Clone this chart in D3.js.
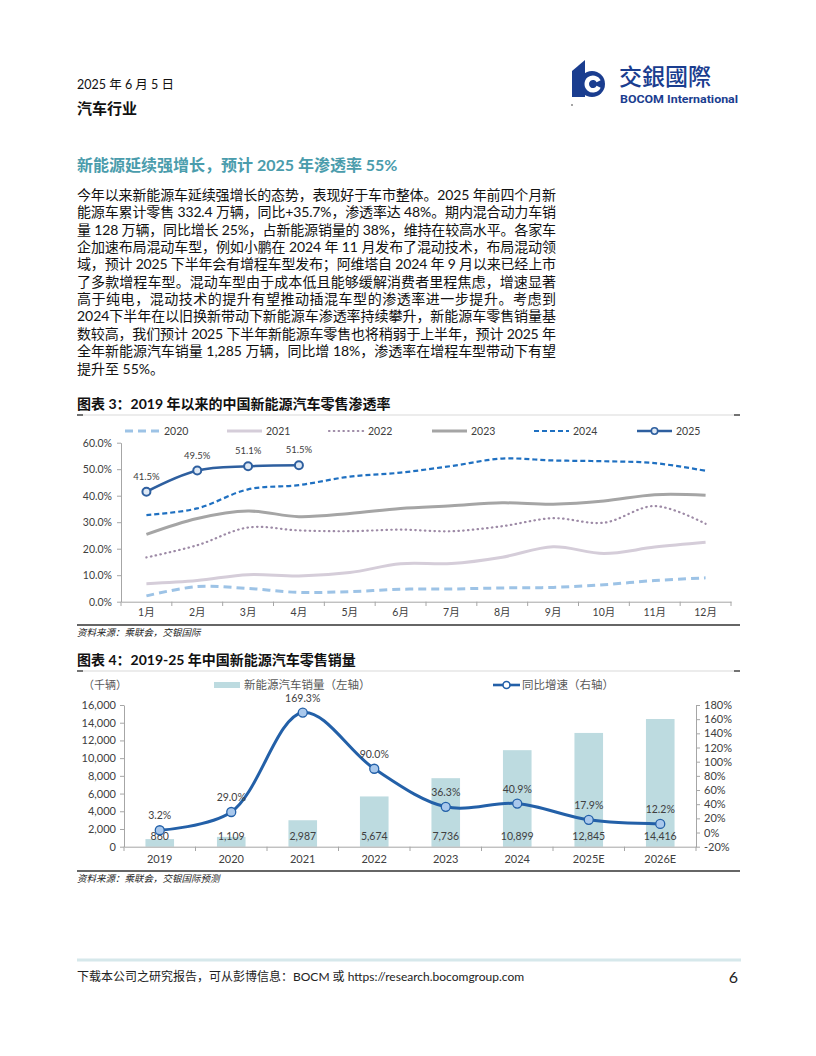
<!DOCTYPE html>
<html><head><meta charset="utf-8">
<script src="https://cdn.jsdelivr.net/npm/d3@7"></script>
<style>
body{margin:0;background:#fff}
svg{display:block}
text{font-family:Lato,'Noto Sans CJK SC',sans-serif}
</style>
</head><body>
<svg id="page" width="816" height="1056"></svg>
<script>
// ---------- DATA ----------
const months = ["1月","2月","3月","4月","5月","6月","7月","8月","9月","10月","11月","12月"];
const pen2020 = [2.2,5.7,5.0,3.5,3.8,4.7,4.8,5.2,5.4,6.4,8.0,9.0];
const pen2021 = [6.8,8.0,10.2,9.7,11.0,14.3,14.4,16.8,20.7,18.2,20.6,22.4];
const pen2022 = [16.7,21.3,28.0,26.9,26.6,27.2,26.6,28.5,31.5,29.8,36.1,29.4];
const pen2023 = [25.4,31.4,34.2,32.1,33.3,35.2,36.2,37.3,36.8,38.0,40.4,40.2];
const pen2024 = [32.7,35.2,42.4,44.0,47.2,48.7,51.2,54.0,53.3,53.0,52.3,49.4];
const pen2025 = [41.5,49.5,51.1,51.5];
const penTicks = [0,10,20,30,40,50,60];

const years = ["2019","2020","2021","2022","2023","2024","2025E","2026E"];
const sales = [860,1109,2987,5674,7736,10899,12845,14416];
const growth = [3.2,29.0,169.3,90.0,36.3,40.9,17.9,12.2];
const salesTicks = [0,2000,4000,6000,8000,10000,12000,14000,16000];
const growthTicks = [-20,0,20,40,60,80,100,120,140,160,180];

const bodyLines = [
 "今年以来新能源车延续强增长的态势，表现好于车市整体。2025 年前四个月新",
 "能源车累计零售 332.4 万辆，同比+35.7%，渗透率达 48%。期内混合动力车销",
 "量 128 万辆，同比增长 25%，占新能源销量的 38%，维持在较高水平。各家车",
 "企加速布局混动车型，例如小鹏在 2024 年 11 月发布了混动技术，布局混动领",
 "域，预计 2025 下半年会有增程车型发布；阿维塔自 2024 年 9 月以来已经上市",
 "了多款增程车型。混动车型由于成本低且能够缓解消费者里程焦虑，增速显著",
 "高于纯电，混动技术的提升有望推动插混车型的渗透率进一步提升。考虑到",
 "2024下半年在以旧换新带动下新能源车渗透率持续攀升，新能源车零售销量基",
 "数较高，我们预计 2025 下半年新能源车零售也将稍弱于上半年，预计 2025 年",
 "全年新能源汽车销量 1,285 万辆，同比增 18%，渗透率在增程车型带动下有望",
 "提升至 55%。"
];

// ---------- PAGE ----------
const svg = d3.select("#page");
const dark = "#1a3d8f";

// header
svg.append("text").attr("x",77).attr("y",89).attr("font-size",12.5).attr("fill","#111").text("2025 年 6 月 5 日");
svg.append("text").attr("x",77).attr("y",114).attr("font-size",15).attr("font-weight","bold").attr("fill","#111").text("汽车行业");

// logo
const logo = svg.append("g");
logo.append("path").attr("d","M572,71 L585,60 L585,97 L572,97 Z").attr("fill",dark);
logo.append("circle").attr("cx",592).attr("cy",84).attr("r",13).attr("fill",dark);
logo.append("path").attr("transform","translate(593,84)")
  .attr("d", d3.arc()({innerRadius:4,outerRadius:8.5,startAngle:Math.PI/2+0.45,endAngle:Math.PI/2-0.45+2*Math.PI}))
  .attr("fill","#fff");
logo.append("circle").attr("cx",572).attr("cy",105).attr("r",0.8).attr("fill","#333");
logo.append("text").attr("x",619).attr("y",85).attr("font-size",23).attr("fill",dark)
  .style("font-family","'Noto Sans CJK TC'").attr("font-weight",500).text("交銀國際");
logo.append("text").attr("x",620).attr("y",102.5).attr("font-size",11).attr("font-weight","bold").attr("fill",dark)
  .style("font-family","Roboto, 'Liberation Sans'").attr("textLength",118).attr("lengthAdjust","spacingAndGlyphs").text("BOCOM International");

// section title
svg.append("text").attr("x",77).attr("y",171).attr("font-size",16).attr("font-weight","bold").attr("fill","#4a9cac")
  .text("新能源延续强增长，预计 2025 年渗透率 55%");

// body
bodyLines.forEach((t,i)=>{
  const tx = svg.append("text").attr("x",77).attr("y",200+i*17.35).attr("font-size",14).attr("fill","#111").text(t);
  if(i<bodyLines.length-1) tx.attr("textLength",479).attr("lengthAdjust","spacing");
});

function titleRule(y){
  svg.append("line").attr("x1",77).attr("x2",740).attr("y1",y).attr("y2",y).attr("stroke","#d9d9d9").attr("stroke-width",1);
  svg.append("line").attr("x1",77).attr("x2",83).attr("y1",y).attr("y2",y).attr("stroke","#222").attr("stroke-width",1.2);
  svg.append("line").attr("x1",734).attr("x2",740).attr("y1",y).attr("y2",y).attr("stroke","#222").attr("stroke-width",1.2);
}

// ---------- CHART 3 ----------
svg.append("text").attr("x",77).attr("y",409).attr("font-size",14).attr("font-weight","bold").attr("fill","#111")
  .text("图表 3：2019 年以来的中国新能源汽车零售渗透率");
titleRule(415);

const x3 = d3.scaleBand().domain(months).range([121,731]);
const y3 = d3.scaleLinear().domain([0,60]).range([601.7,442.7]);
const axisCol = "#a6a6a6", txtCol = "#404040";

const series3 = [
  {name:"2020", data:pen2020, color:"#9dc3e6", w:3, dash:"8,5", cap:"butt"},
  {name:"2021", data:pen2021, color:"#d5cdd9", w:3, dash:null, cap:"butt"},
  {name:"2022", data:pen2022, color:"#9d8aa6", w:2.2, dash:"0.5,4.3", cap:"round"},
  {name:"2023", data:pen2023, color:"#a5a5a5", w:3, dash:null, cap:"butt"},
  {name:"2024", data:pen2024, color:"#1f70c1", w:2.2, dash:"5,3", cap:"butt"},
  {name:"2025", data:pen2025, color:"#2e5f9f", w:2.6, dash:null, cap:"butt", marker:true}
];

// axes
const gy3 = svg.append("g").attr("transform","translate(121,0)")
  .call(d3.axisLeft(y3).tickValues(penTicks).tickSize(4).tickSizeOuter(0).tickFormat(d=>d.toFixed(1)+"%"));
const gx3 = svg.append("g").attr("transform","translate(0,601.7)")
  .call(d3.axisBottom(x3).tickSize(0).tickSizeOuter(0));
[gy3,gx3].forEach(g=>{
  g.select(".domain").attr("stroke",axisCol);
  g.selectAll(".tick line").attr("stroke",axisCol);
  g.selectAll("text").attr("fill",txtCol).attr("font-size",10.5).style("font-family","Lato,'Noto Sans CJK SC'");
});
gy3.selectAll("text").attr("x",-9);
gx3.selectAll("text").attr("dy","0.9em").attr("y",5);
// x ticks at band boundaries
svg.append("g").selectAll("line").data(months.concat(["end"])).join("line")
  .attr("x1",(d,i)=>121+i*x3.step()).attr("x2",(d,i)=>121+i*x3.step())
  .attr("y1",601.7).attr("y2",606).attr("stroke",axisCol);

const line3 = d3.line().x((d,i)=>x3(months[i])+x3.bandwidth()/2).y(d=>y3(d)).curve(d3.curveCatmullRom.alpha(0.5));
series3.forEach(s=>{
  svg.append("path").attr("d",line3(s.data)).attr("fill","none").attr("stroke",s.color)
    .attr("stroke-width",s.w).attr("stroke-dasharray",s.dash).attr("stroke-linecap",s.cap);
});
const s25 = series3[5];
svg.append("g").selectAll("circle").data(pen2025).join("circle")
  .attr("cx",(d,i)=>x3(months[i])+x3.bandwidth()/2).attr("cy",d=>y3(d)).attr("r",4)
  .attr("fill","#dfe9f5").attr("stroke",s25.color).attr("stroke-width",2);
svg.append("g").selectAll("text").data(pen2025).join("text")
  .attr("x",(d,i)=>x3(months[i])+x3.bandwidth()/2).attr("y",d=>y3(d)-12)
  .attr("text-anchor","middle").attr("font-size",9.5).attr("fill",txtCol).text(d=>d.toFixed(1)+"%");

// legend 3
const leg3x = [125,227,329,432,534,637];
series3.forEach((s,i)=>{
  const g = svg.append("g");
  g.append("line").attr("x1",leg3x[i]).attr("x2",leg3x[i]+35).attr("y1",431).attr("y2",431)
    .attr("stroke",s.color).attr("stroke-width",s.w).attr("stroke-dasharray",s.dash).attr("stroke-linecap",s.cap);
  if(s.marker) g.append("circle").attr("cx",leg3x[i]+17.5).attr("cy",431).attr("r",3.2).attr("fill","#dfe9f5").attr("stroke",s.color).attr("stroke-width",1.6);
  g.append("text").attr("x",leg3x[i]+39).attr("y",435).attr("font-size",10.5).attr("fill",txtCol).text(s.name);
});

svg.append("line").attr("x1",77).attr("x2",740).attr("y1",625).attr("y2",625).attr("stroke","#333").attr("stroke-width",1.5);
svg.append("text").attr("x",77).attr("y",636).attr("font-size",9.5).attr("font-style","italic").attr("fill","#222").text("资料来源：乘联会，交银国际");

// ---------- CHART 4 ----------
svg.append("text").attr("x",77).attr("y",665).attr("font-size",14).attr("font-weight","bold").attr("fill","#111")
  .text("图表 4：2019-25 年中国新能源汽车零售销量");
titleRule(671);

const x4 = d3.scaleBand().domain(years).range([124,696]);
const yL = d3.scaleLinear().domain([0,16000]).range([846.7,705]);
const yR = d3.scaleLinear().domain([-20,180]).range([846.7,705]);
const barCol = "#bddbe0", lineCol = "#2360a8";

const bw = x4.bandwidth()*0.4;
svg.append("g").selectAll("rect").data(sales).join("rect")
  .attr("x",(d,i)=>x4(years[i])+x4.bandwidth()/2-bw/2).attr("width",bw)
  .attr("y",d=>yL(d)).attr("height",d=>yL(0)-yL(d)).attr("fill",barCol);

const gL = svg.append("g").attr("transform","translate(124,0)")
  .call(d3.axisLeft(yL).tickValues(salesTicks).tickSize(4).tickSizeOuter(0).tickFormat(d3.format(",")));
const gR = svg.append("g").attr("transform","translate(696,0)")
  .call(d3.axisRight(yR).tickValues(growthTicks).tickSize(4).tickSizeOuter(0).tickFormat(d=>d+"%"));
const gX = svg.append("g").attr("transform","translate(0,846.7)")
  .call(d3.axisBottom(x4).tickSize(0).tickSizeOuter(0));
[gL,gR,gX].forEach(g=>{
  g.select(".domain").attr("stroke",axisCol);
  g.selectAll(".tick line").attr("stroke",axisCol);
  g.selectAll("text").attr("fill",txtCol).attr("font-size",11).style("font-family","Lato,'Noto Sans CJK SC'");
});
gL.selectAll("text").attr("x",-8);
gR.selectAll("text").attr("x",8);
gX.selectAll("text").attr("dy","0.9em").attr("y",6);
svg.append("g").selectAll("line").data(years.concat(["end"])).join("line")
  .attr("x1",(d,i)=>124+i*x4.step()).attr("x2",(d,i)=>124+i*x4.step())
  .attr("y1",846.7).attr("y2",851).attr("stroke",axisCol);

// bar labels
svg.append("g").selectAll("text").data(sales).join("text")
  .attr("x",(d,i)=>x4(years[i])+x4.bandwidth()/2).attr("y",840)
  .attr("text-anchor","middle").attr("font-size",10.5).attr("fill",txtCol).text(d3.format(","));

const line4 = d3.line().x((d,i)=>x4(years[i])+x4.bandwidth()/2).y(d=>yR(d)).curve(d3.curveCatmullRom.alpha(0.5));
svg.append("path").attr("d",line4(growth)).attr("fill","none").attr("stroke",lineCol).attr("stroke-width",3);
svg.append("g").selectAll("circle").data(growth).join("circle")
  .attr("cx",(d,i)=>x4(years[i])+x4.bandwidth()/2).attr("cy",d=>yR(d)).attr("r",4.5)
  .attr("fill","#a9c8ec").attr("stroke",lineCol).attr("stroke-width",1.3);
svg.append("g").selectAll("text").data(growth).join("text")
  .attr("x",(d,i)=>x4(years[i])+x4.bandwidth()/2).attr("y",d=>yR(d)-11)
  .attr("text-anchor","middle").attr("font-size",10.5).attr("fill",txtCol).text(d=>d.toFixed(1)+"%");

// legend 4
svg.append("text").attr("x",83).attr("y",689).attr("font-size",11).attr("fill","#595959").text("（千辆）");
svg.append("rect").attr("x",214).attr("y",682).attr("width",26).attr("height",6).attr("fill",barCol);
svg.append("text").attr("x",244).attr("y",689).attr("font-size",11.5).attr("fill","#595959").text("新能源汽车销量（左轴）");
svg.append("line").attr("x1",493).attr("x2",520).attr("y1",685).attr("y2",685).attr("stroke",lineCol).attr("stroke-width",2.6);
svg.append("circle").attr("cx",506.5).attr("cy",685).attr("r",3.5).attr("fill","#fff").attr("stroke",lineCol).attr("stroke-width",1.6);
svg.append("text").attr("x",522).attr("y",689).attr("font-size",11.5).attr("fill","#595959").text("同比增速（右轴）");

svg.append("line").attr("x1",77).attr("x2",740).attr("y1",871).attr("y2",871).attr("stroke","#333").attr("stroke-width",1.5);
svg.append("text").attr("x",77).attr("y",882).attr("font-size",9.5).attr("font-style","italic").attr("fill","#222").text("资料来源：乘联会，交银国际预测");

// ---------- FOOTER ----------
svg.append("line").attr("x1",77).attr("x2",741).attr("y1",960).attr("y2",960).attr("stroke","#d6e8eb").attr("stroke-width",3);
svg.append("text").attr("x",77).attr("y",981).attr("font-size",12).attr("fill","#222")
  .text("下载本公司之研究报告，可从彭博信息：BOCM 或 https://research.bocomgroup.com");
svg.append("text").attr("x",738).attr("y",983).attr("font-size",16).attr("text-anchor","end").attr("fill","#222").text("6");
</script>
</body></html>
